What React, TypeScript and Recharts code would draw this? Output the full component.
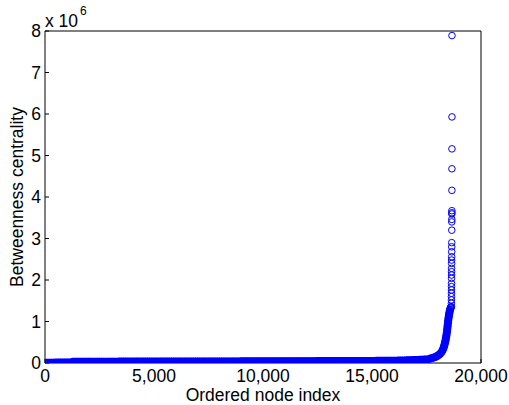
import { ScatterChart, Scatter, XAxis, YAxis, Customized } from "recharts";

// betweenness values in units of 10^6, sampled every 100th node along the flat part
const headStart = 0;
const headValues = [0.004, 0.006, 0.007, 0.008, 0.009, 0.01, 0.01, 0.011, 0.012, 0.012, 0.013, 0.014, 0.015];

const bodyStart = 1300;
const bodyValues = [
  0.03, 0.03, 0.03, 0.031, 0.031, 0.031, 0.031, 0.031, 0.032, 0.032,
  0.032, 0.032, 0.032, 0.032, 0.033, 0.033, 0.033, 0.033, 0.033, 0.033,
  0.033, 0.034, 0.034, 0.034, 0.034, 0.034, 0.034, 0.034, 0.034, 0.035,
  0.035, 0.035, 0.035, 0.035, 0.035, 0.035, 0.035,
  0.035, 0.035, 0.036, 0.036, 0.036, 0.036, 0.036, 0.036, 0.036, 0.036,
  0.037, 0.037, 0.037, 0.037, 0.037, 0.037, 0.037, 0.037, 0.037, 0.037,
  0.038, 0.038, 0.038, 0.038, 0.038, 0.038, 0.038, 0.038, 0.038, 0.038,
  0.039, 0.039, 0.039, 0.039, 0.039, 0.039, 0.039, 0.039, 0.039, 0.039,
  0.04, 0.04, 0.04, 0.04, 0.04, 0.04, 0.04, 0.04, 0.04, 0.04,
  0.041, 0.041, 0.041, 0.041, 0.041, 0.042, 0.042, 0.042, 0.042, 0.042,
  0.043, 0.043, 0.043, 0.043, 0.043, 0.044, 0.044, 0.044, 0.044, 0.044,
  0.045, 0.045, 0.045, 0.045, 0.045, 0.046, 0.046, 0.046, 0.046, 0.046,
  0.047, 0.047, 0.047, 0.047, 0.047, 0.048, 0.048, 0.048, 0.048, 0.048,
  0.049, 0.049, 0.049, 0.049, 0.049, 0.05, 0.05, 0.05, 0.05, 0.05,
  0.051, 0.051, 0.052, 0.052, 0.053, 0.053, 0.054, 0.054, 0.055, 0.056,
  0.056, 0.057, 0.058, 0.059, 0.06,
  0.062, 0.064, 0.066, 0.068, 0.07, 0.072, 0.074, 0.077, 0.08, 0.083,
];
const sampleStep = 100;

// the knee of the curve
const bendIndex = [
  17500, 17600, 17700, 17800, 17900, 17980, 18050, 18100, 18150, 18200,
  18240, 18280, 18310, 18340, 18370, 18395, 18415, 18435, 18450, 18465,
  18480, 18495, 18510, 18525, 18540, 18555, 18570, 18585, 18600, 18615, 18630,
];
const bendValues = [
  0.085, 0.095, 0.11, 0.125, 0.145, 0.165, 0.19, 0.21, 0.24, 0.27,
  0.31, 0.36, 0.41, 0.47, 0.54, 0.61, 0.67, 0.74, 0.81, 0.88,
  0.95, 1.02, 1.08, 1.13, 1.18, 1.22, 1.26, 1.29, 1.32, 1.34, 1.35,
];

// the top nodes, one by one
const tailIndex = [
  18641, 18642, 18643, 18644, 18645, 18646, 18647, 18648, 18649, 18650,
  18651, 18652, 18653, 18654, 18655, 18656, 18657, 18658, 18659, 18660,
  18661, 18662, 18663, 18664, 18665, 18666, 18667, 18668, 18669,
];
const tailValues = [
  1.36, 1.44, 1.52, 1.6, 1.68, 1.76, 1.84, 1.92, 2.04, 2.12,
  2.2, 2.28, 2.4, 2.48, 2.56, 2.68, 2.8, 2.9, 3.2, 3.4,
  3.46, 3.59, 3.62, 3.67, 4.16, 4.68, 5.16, 5.93, 7.89,
];

const xTicks = [0, 5000, 10000, 15000, 20000];
const yTicks = [0, 1, 2, 3, 4, 5, 6, 7, 8];

// dense part: thousands of overlapping rings, drawn as a solid band
const densePoints = [
  ...headValues.map((v, i) => ({ x: headStart + i * sampleStep, y: v })),
  ...bodyValues.map((v, i) => ({ x: bodyStart + i * sampleStep, y: v })),
  ...bendValues.map((v, i) => ({ x: bendIndex[i], y: v })),
];
const tailPoints = tailValues.map((v, i) => ({ x: tailIndex[i], y: v }));

const BLUE = "#0000ff";
const FONT = "'Liberation Sans', Arial, Helvetica, sans-serif";
const tickStyle = { fill: "#000", fontSize: 17.5, fontFamily: FONT };

const Ring = (props: any) => (
  <circle cx={props.cx} cy={props.cy} r={3.3} fill="none" stroke={BLUE} strokeWidth={1} />
);
const Nothing = () => <g />;

const Exponent = () => (
  <text x={45} y={27} fontSize={17.5} fontFamily={FONT} fill="#000">
    x 10
    <tspan dx={2} dy={-12} fontSize={12}>6</tspan>
  </text>
);

export default function App() {
  return (
    <div style={{ position: "absolute", left: 0, top: 0, background: "#fff" }}>
      <ScatterChart width={509} height={405} margin={{ top: 30, right: 27, bottom: 0, left: 0 }}>
        <XAxis
          xAxisId="b"
          type="number"
          dataKey="x"
          orientation="bottom"
          domain={[0, 20000]}
          ticks={xTicks}
          allowDataOverflow
          height={42}
          tickSize={-4}
          tickMargin={11}
          tick={tickStyle}
          stroke="#000"
          tickFormatter={(v: number) => v.toLocaleString("en-US")}
          label={{ value: "Ordered node index", position: "insideBottom", offset: 4, fill: "#000", fontSize: 17.5, fontFamily: FONT }}
        />
        <XAxis
          xAxisId="t"
          type="number"
          dataKey="x"
          orientation="top"
          domain={[0, 20000]}
          ticks={xTicks}
          allowDataOverflow
          height={1}
          tickSize={-4}
          tick={false}
          stroke="#000"
        />
        <YAxis
          yAxisId="l"
          type="number"
          dataKey="y"
          domain={[0, 8]}
          ticks={yTicks}
          allowDataOverflow
          width={45}
          tickSize={-4}
          tickMargin={8}
          tick={tickStyle}
          stroke="#000"
          label={{
            value: "Betweenness centrality",
            angle: -90,
            position: "insideLeft",
            offset: 17,
            fill: "#000",
            fontSize: 17.5,
            fontFamily: FONT,
            style: { textAnchor: "middle" },
          }}
        />
        <YAxis
          yAxisId="r"
          type="number"
          dataKey="y"
          orientation="right"
          domain={[0, 8]}
          ticks={yTicks}
          allowDataOverflow
          width={1}
          tickSize={-4}
          tick={false}
          stroke="#000"
        />
        <Scatter
          xAxisId="t"
          yAxisId="r"
          data={tailPoints}
          shape={Nothing}
          isAnimationActive={false}
        />
        <Scatter
          xAxisId="b"
          yAxisId="l"
          data={densePoints}
          shape={Ring}
          line={{ stroke: BLUE, strokeWidth: 8 }}
          lineJointType="linear"
          isAnimationActive={false}
        />
        <Scatter
          xAxisId="b"
          yAxisId="l"
          data={tailPoints}
          shape={Ring}
          isAnimationActive={false}
        />
        <Customized component={Exponent} />
      </ScatterChart>
    </div>
  );
}
